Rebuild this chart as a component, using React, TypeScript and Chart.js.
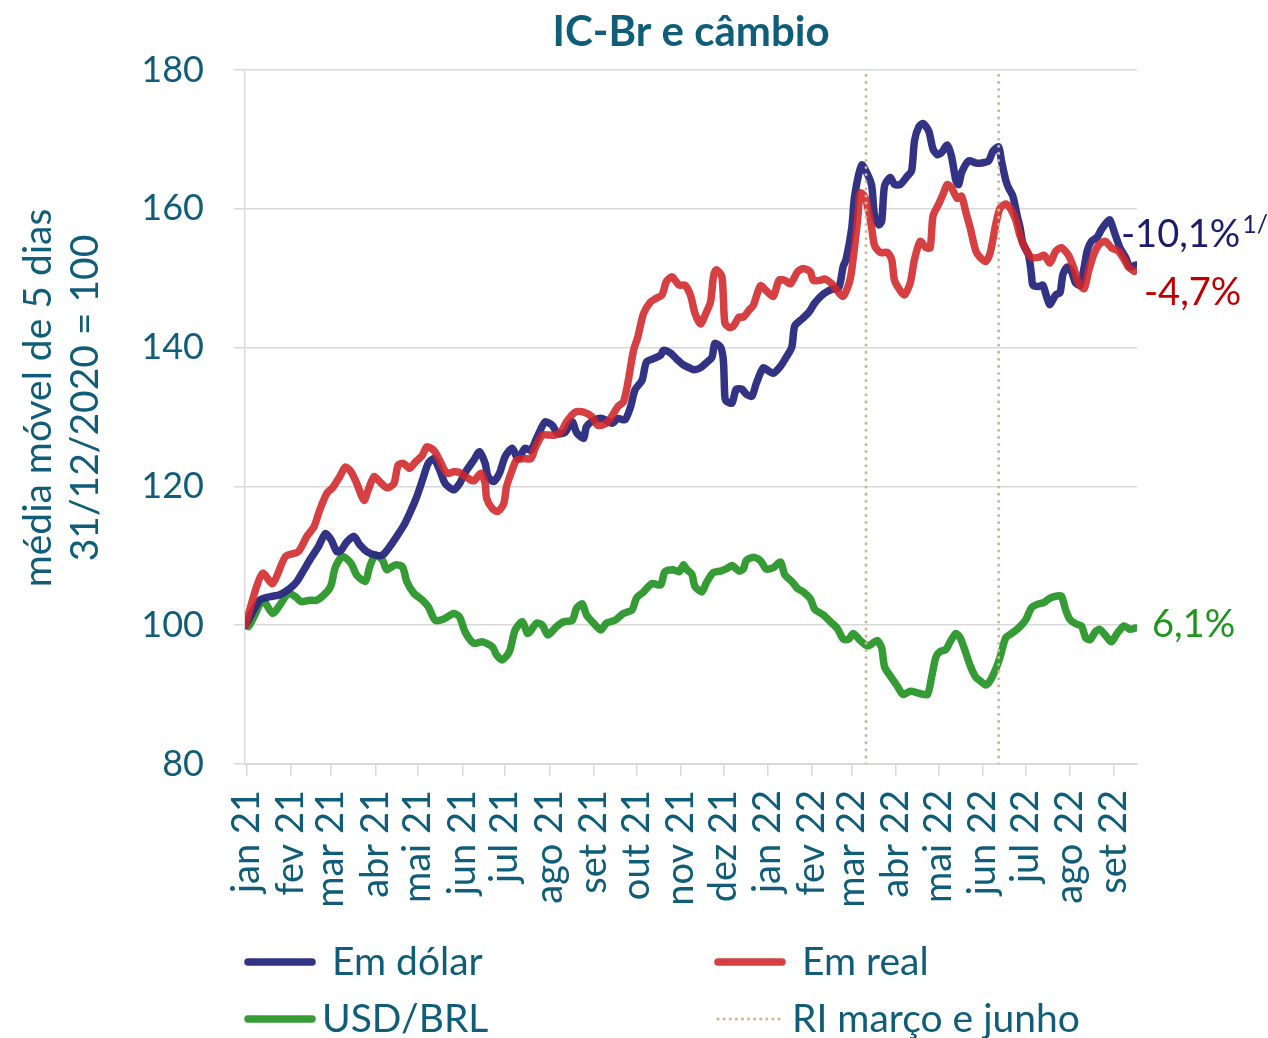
import React, { useEffect, useRef } from "react";
import { Chart, registerables } from "chart.js";

Chart.register(...registerables);

const FONT = "Lato, 'Open Sans', sans-serif";
const TEAL = "#0F5D78";
const GRID = "#D9D9D9";

const chartTitle = "IC-Br e câmbio";
const yTitle = ["média móvel de 5 dias", "31/12/2020 = 100"];

// x axis: days since 01/01/2021
const monthLabels = [
  "jan 21", "fev 21", "mar 21", "abr 21", "mai 21", "jun 21", "jul 21", "ago 21", "set 21", "out 21",
  "nov 21", "dez 21", "jan 22", "fev 22", "mar 22", "abr 22", "mai 22", "jun 22", "jul 22", "ago 22", "set 22",
];
const monthStartDays = [0, 31, 59, 90, 120, 151, 181, 212, 243, 273, 304, 334, 365, 396, 424, 455, 485, 516, 546, 577, 608];

const seriesNames = ["Em dólar", "Em real", "USD/BRL", "RI março e junho"];

const emDolar: [number, number][] = [[-1,100],[9,103.6],[16,104.1],[23,104.4],[30,105.3],[35,106.3],[40,108.0],[44,109.4],[50,111.3],[55,113.2],[59,112.3],[63,110.6],[66,110.8],[70,112.0],[75,112.8],[79,111.6],[84,110.6],[90,110.1],[95,110.1],[100,111.3],[105,112.8],[110,114.4],[114,116.1],[119,118.5],[123,120.9],[127,123.3],[131,124.0],[135,122.4],[139,120.4],[145,119.5],[149,120.4],[153,122.0],[159,123.8],[163,125.0],[167,123.3],[169,121.4],[173,120.7],[177,121.9],[181,124.3],[186,125.5],[190,124.0],[195,125.5],[199,125.2],[203,126.9],[209,129.3],[214,128.8],[218,127.6],[223,127.8],[228,129.3],[231,127.8],[236,126.9],[238,128.6],[244,129.6],[249,129.8],[256,129.1],[260,129.8],[265,129.6],[269,131.5],[272,133.9],[277,135.3],[280,137.9],[285,138.4],[290,138.9],[292,139.6],[297,139.2],[301,138.4],[306,137.5],[311,137.0],[313,136.8],[318,137.1],[322,137.8],[326,138.6],[328,140.6],[332,140.1],[334,138.1],[335,133.0],[336,132.3],[340,132.0],[343,134.0],[347,134.0],[350,133.3],[354,133.0],[357,134.8],[362,137.1],[366,136.6],[369,136.3],[374,137.3],[378,138.6],[382,140.1],[384,143.1],[389,144.1],[394,145.1],[398,146.4],[404,147.7],[410,148.4],[415,148.7],[418,151.7],[420,152.7],[424,157.2],[426,161.8],[431,166.3],[435,165.0],[438,163.3],[440,159.0],[443,157.7],[445,158.2],[447,163.3],[451,164.5],[454,163.5],[458,163.5],[463,164.7],[466,165.5],[468,169.8],[471,171.8],[474,172.3],[478,171.2],[481,168.6],[484,167.8],[487,168.1],[491,169.2],[494,167.5],[497,164.1],[499,163.5],[501,165.2],[506,166.9],[511,166.6],[515,166.6],[520,166.9],[523,168.3],[527,168.9],[529,166.9],[532,164.1],[534,163.0],[537,161.8],[540,159.0],[542,157.3],[544,155.0],[548,153.3],[550,150.5],[551,149.0],[555,148.8],[558,149.0],[561,147.1],[563,146.2],[567,147.6],[570,147.9],[572,150.5],[575,151.6],[578,151.0],[581,149.3],[584,149.0],[587,151.6],[589,153.9],[592,155.3],[596,155.9],[599,157.0],[603,158.1],[605,158.4],[608,156.7],[612,154.4],[616,153.0],[619,151.6],[623,151.9]];

const emReal: [number, number][] = [[-1,100],[6,105.1],[11,107.5],[18,106.0],[27,109.9],[36,110.6],[42,112.8],[47,114.2],[51,116.6],[56,119.0],[60,119.8],[65,121.4],[69,122.8],[73,122.1],[77,120.4],[82,118.0],[85,119.5],[89,121.4],[93,120.7],[98,119.8],[103,120.4],[106,123.1],[110,123.3],[114,122.6],[118,123.5],[123,124.5],[126,125.7],[131,125.2],[135,123.8],[140,121.9],[145,122.1],[149,122.0],[154,121.3],[159,120.8],[164,121.9],[167,120.4],[168,118.3],[172,116.8],[176,116.4],[180,117.5],[182,120.0],[186,122.4],[189,123.8],[194,124.0],[199,124.0],[202,125.5],[207,127.4],[211,127.4],[216,127.4],[220,127.8],[224,129.3],[230,130.7],[236,130.7],[242,130.0],[246,128.8],[252,129.1],[257,130.5],[260,131.5],[264,132.2],[267,134.9],[271,139.6],[274,141.5],[278,144.9],[283,146.6],[287,147.1],[291,147.6],[294,149.5],[298,150.2],[303,149.0],[307,149.0],[311,147.5],[314,145.0],[318,143.4],[321,144.6],[325,146.6],[327,150.2],[329,151.2],[333,150.2],[335,143.6],[338,142.9],[341,143.1],[345,144.4],[348,144.4],[352,145.4],[355,146.1],[360,148.9],[364,148.2],[369,147.4],[373,149.7],[377,149.7],[381,149.2],[386,150.9],[390,151.4],[395,150.9],[397,149.7],[402,149.7],[405,149.9],[410,149.2],[415,147.9],[418,147.4],[422,149.2],[424,151.2],[428,158.2],[430,162.3],[433,161.8],[436,159.5],[438,157.2],[440,154.7],[444,153.7],[449,153.7],[452,152.7],[454,149.7],[458,148.2],[461,147.6],[465,149.3],[468,152.7],[472,155.3],[476,154.4],[479,154.4],[481,159.0],[485,160.7],[488,162.1],[491,163.5],[494,163.0],[498,161.5],[501,161.8],[504,159.5],[507,157.3],[511,153.9],[514,153.0],[518,152.4],[521,153.6],[525,157.8],[528,160.1],[532,160.7],[535,160.1],[539,158.4],[542,156.1],[546,154.2],[550,153.0],[555,153.0],[559,153.3],[563,152.2],[567,153.9],[571,154.4],[576,153.3],[580,151.3],[583,149.3],[587,148.5],[590,151.0],[594,153.6],[598,155.0],[602,155.3],[606,154.4],[611,153.9],[615,152.7],[618,151.6],[622,151.0]];

const usdBrl: [number, number][] = [[-1,100],[1,99.8],[6,101.7],[11,103.6],[18,101.7],[23,102.9],[29,104.6],[34,104.1],[38,103.4],[44,103.6],[49,103.6],[56,104.8],[59,105.8],[62,108.4],[67,109.9],[73,108.9],[77,107.2],[83,106.3],[86,108.4],[90,110.1],[95,109.4],[98,108.0],[104,108.7],[109,108.4],[112,106.3],[117,104.6],[123,103.6],[127,102.7],[132,100.7],[138,100.9],[145,101.7],[149,101.2],[153,99.0],[159,97.4],[165,97.6],[172,96.9],[175,95.7],[179,95.0],[184,96.2],[188,99.3],[193,100.5],[197,98.8],[203,100.3],[207,100.0],[211,98.6],[217,99.8],[222,100.5],[228,100.7],[231,102.4],[235,103.1],[238,101.5],[243,100.3],[248,99.3],[252,100.3],[258,100.7],[264,101.7],[270,102.2],[273,103.9],[278,104.8],[284,106.0],[290,105.8],[293,107.7],[299,108.0],[303,107.7],[306,108.7],[308,108.1],[312,107.3],[314,105.6],[319,104.8],[322,106.1],[327,107.6],[332,107.8],[336,108.1],[340,108.6],[345,107.8],[348,108.1],[350,109.3],[355,109.8],[360,109.3],[364,108.1],[369,108.3],[374,109.1],[377,107.3],[382,106.3],[386,105.3],[390,104.8],[395,103.8],[398,102.3],[404,101.5],[409,100.5],[414,99.5],[418,98.0],[422,98.0],[425,98.8],[430,97.8],[435,97.0],[438,97.3],[442,97.8],[445,96.7],[447,94.0],[451,92.7],[456,91.2],[460,90.0],[465,90.5],[471,90.2],[477,90.0],[480,92.5],[483,95.4],[486,96.2],[490,96.5],[493,97.6],[497,98.8],[500,98.2],[504,96.0],[507,94.2],[511,92.5],[514,92.0],[518,91.4],[521,92.0],[525,93.7],[528,95.4],[532,98.2],[536,98.8],[541,99.6],[546,100.8],[550,102.5],[554,103.0],[559,103.3],[563,103.9],[568,104.2],[571,104.2],[574,102.2],[577,100.8],[581,100.2],[585,99.9],[588,98.2],[591,97.9],[595,99.1],[598,99.4],[602,98.5],[606,97.6],[610,98.8],[615,99.9],[619,99.4],[623,99.6]];

const riDays = [434, 527];

const endLabelTexts = ["-10,1%", "-4,7%", "6,1%"];
const endLabelSup = "1/";

const Y_MIN = 80;
const Y_MAX = 180;
const Y_STEP = 20;

const COLORS = {
  dolar: "rgba(43,43,128,0.96)",
  real: "rgba(208,38,40,0.88)",
  usd: "rgba(40,150,40,0.94)",
  ri: "#CDB98F",
};

const toPts = (arr: [number, number][]) => arr.map(([x, y]) => ({ x, y }));

const decorPlugin = {
  id: "decor",
  afterDraw(chart: any) {
    const { ctx, chartArea, scales } = chart;
    const ys = scales.y;
    ctx.save();
    // title
    ctx.fillStyle = TEAL;
    ctx.font = `bold 42px ${FONT}`;
    ctx.textAlign = "center";
    ctx.textBaseline = "middle";
    ctx.fillText(chartTitle, (chartArea.left + chartArea.right) / 2, 32);

    // y axis title (two rotated lines)
    ctx.save();
    ctx.font = `39px ${FONT}`;
    ctx.translate(38, 398);
    ctx.rotate(-Math.PI / 2);
    ctx.fillText(yTitle[0], 0, 0);
    ctx.fillText(yTitle[1], 0, 47);
    ctx.restore();

    // end labels
    ctx.textAlign = "left";
    ctx.font = `38px ${FONT}`;
    ctx.fillStyle = "#1B1C6C";
    const y1 = ys.getPixelForValue(156.3);
    ctx.fillText(endLabelTexts[0], 1121, y1);
    const w1 = ctx.measureText(endLabelTexts[0]).width;
    ctx.font = `25px ${FONT}`;
    ctx.fillText(endLabelSup, 1121 + w1 + 2, y1 - 10);
    ctx.font = `38px ${FONT}`;
    ctx.fillStyle = "#C00000";
    ctx.fillText(endLabelTexts[1], 1144, ys.getPixelForValue(147.9));
    ctx.fillStyle = "#1E961E";
    ctx.fillText(endLabelTexts[2], 1152, ys.getPixelForValue(100));

    // legend
    const items = [
      { name: seriesNames[0], color: COLORS.dolar, x: 248, y: 962, tx: 332, dotted: false },
      { name: seriesNames[1], color: COLORS.real, x: 718, y: 962, tx: 802, dotted: false },
      { name: seriesNames[2], color: COLORS.usd, x: 248, y: 1019, tx: 322, dotted: false },
      { name: seriesNames[3], color: COLORS.ri, x: 718, y: 1019, tx: 792, dotted: true },
    ];
    ctx.font = `39px ${FONT}`;
    ctx.textBaseline = "middle";
    for (const it of items) {
      ctx.beginPath();
      ctx.strokeStyle = it.color;
      ctx.lineCap = "round";
      if (it.dotted) {
        ctx.lineWidth = 3;
        ctx.setLineDash([0.1, 6]);
      } else {
        ctx.lineWidth = 7.5;
        ctx.setLineDash([]);
      }
      ctx.moveTo(it.x, it.y);
      ctx.lineTo(it.x + 64, it.y);
      ctx.stroke();
      ctx.setLineDash([]);
      ctx.fillStyle = TEAL;
      ctx.fillText(it.name, it.tx, it.y);
    }
    ctx.restore();
  },
};

export default function App() {
  const ref = useRef<HTMLCanvasElement | null>(null);

  useEffect(() => {
    if (!ref.current) return;
    const riData: any[] = [];
    riDays.forEach((d, i) => {
      if (i > 0) riData.push({ x: (riDays[i - 1] + d) / 2, y: null });
      riData.push({ x: d, y: Y_MIN }, { x: d, y: Y_MAX });
    });

    const lineDefaults = {
      borderWidth: 7.5,
      pointRadius: 0,
      tension: 0.25,
      borderJoinStyle: "round",
      borderCapStyle: "round",
    };

    const chart = new Chart(ref.current, {
      type: "line",
      data: {
        datasets: [
          {
            label: seriesNames[3],
            data: riData,
            borderColor: COLORS.ri,
            borderWidth: 3,
            borderDash: [0.1, 7],
            borderCapStyle: "round",
            pointRadius: 0,
            spanGaps: false,
            order: 0,
          },
          { label: seriesNames[1], data: toPts(emReal), borderColor: COLORS.real, order: 1, ...lineDefaults },
          { label: seriesNames[0], data: toPts(emDolar), borderColor: COLORS.dolar, order: 2, ...lineDefaults },
          { label: seriesNames[2], data: toPts(usdBrl), borderColor: COLORS.usd, order: 3, ...lineDefaults },
        ],
      },
      options: {
        animation: false,
        responsive: true,
        maintainAspectRatio: false,
        layout: { padding: { top: 70, right: 131, bottom: 110, left: 0 } },
        plugins: {
          legend: { display: false },
          title: { display: false },
          tooltip: { enabled: false },
        },
        scales: {
          x: {
            type: "linear",
            min: -1.4,
            max: 624,
            afterBuildTicks: (scale: any) => {
              scale.ticks = monthStartDays.map((v) => ({ value: v }));
            },
            afterFit: (scale: any) => {
              scale.height = 164;
            },
            ticks: {
              autoSkip: false,
              minRotation: 90,
              maxRotation: 90,
              padding: 14,
              color: TEAL,
              font: { family: FONT, size: 38 },
              callback: (_v: any, i: number) => monthLabels[i],
            },
            grid: {
              drawOnChartArea: false,
              drawTicks: true,
              tickLength: 12,
              color: GRID,
              lineWidth: 1.5,
            },
            border: { color: GRID, width: 2 },
          },
          y: {
            min: Y_MIN,
            max: Y_MAX,
            afterFit: (scale: any) => {
              scale.width = 245;
            },
            ticks: {
              stepSize: Y_STEP,
              padding: 30,
              color: TEAL,
              font: { family: FONT, size: 36 },
            },
            grid: { color: GRID, lineWidth: 1.5, tickLength: 11 },
            border: { color: GRID, width: 1.5 },
            title: { display: false },
          },
        },
      },
      plugins: [decorPlugin],
    } as any);
    return () => chart.destroy();
  }, []);

  return (
    <div style={{ position: "absolute", left: 0, top: 0, width: 1268, height: 1038, background: "#fff" }}>
      <canvas ref={ref} />
    </div>
  );
}
